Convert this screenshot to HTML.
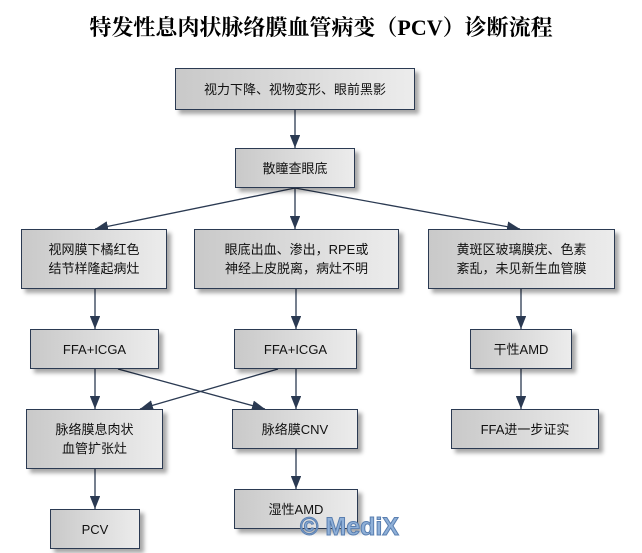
<!DOCTYPE html>
<html><head><meta charset="utf-8"><style>
body{margin:0;width:642px;height:553px;background:#fff;position:relative;overflow:hidden;font-family:"Liberation Sans","Noto Sans CJK SC",sans-serif;}
.t{position:absolute;left:0;width:642px;top:11px;text-align:center;font-size:22px;font-weight:bold;color:#000;font-family:"Liberation Serif","Noto Serif CJK SC",serif;}
.b{position:absolute;box-sizing:border-box;border:1px solid #2b3a52;background:linear-gradient(to right,#c9c9c9,#ececec);box-shadow:4px 4px 4px rgba(0,0,0,0.35);display:flex;align-items:center;justify-content:center;text-align:center;font-size:13px;line-height:19px;color:#111;}
svg{position:absolute;left:0;top:0;}
.wm{position:absolute;left:300px;top:513px;font-size:25px;font-weight:bold;color:#8fb0d8;-webkit-text-stroke:1px #5a7fb0;font-family:"Liberation Sans",sans-serif;}
</style></head><body>
<div class="t">特发性息肉状脉络膜血管病变（PCV）诊断流程</div>
<svg width="642" height="553"><defs>
<marker id="m" viewBox="0 0 10 8" refX="10" refY="4" markerWidth="10" markerHeight="8" orient="auto"><path d="M0,0 L10,4 L0,8z" fill="#2b3a52"/></marker></defs>
<g stroke="#2b3a52" stroke-width="1.3" fill="none" marker-end="url(#m)">
<line x1="295" y1="110" x2="295" y2="148"/>
<line x1="295" y1="188" x2="95" y2="229"/>
<line x1="295" y1="188" x2="295" y2="229"/>
<line x1="295" y1="188" x2="520" y2="229"/>
<line x1="95" y1="289" x2="95" y2="329"/>
<line x1="296" y1="289" x2="296" y2="329"/>
<line x1="521" y1="289" x2="521" y2="329"/>
<line x1="95" y1="369" x2="95" y2="409"/>
<line x1="296" y1="369" x2="296" y2="409"/>
<line x1="521" y1="369" x2="521" y2="409"/>
<line x1="118" y1="369" x2="265" y2="409"/>
<line x1="278" y1="369" x2="140" y2="409"/>
<line x1="296" y1="449" x2="296" y2="489"/>
<line x1="95" y1="469" x2="95" y2="509"/>
</g></svg>
<div class="b" style="left:175px;top:68px;width:240px;height:42px">视力下降、视物变形、眼前黑影</div>
<div class="b" style="left:235px;top:148px;width:120px;height:40px">散瞳查眼底</div>
<div class="b" style="left:21px;top:229px;width:146px;height:60px">视网膜下橘红色<br>结节样隆起病灶</div>
<div class="b" style="left:194px;top:229px;width:205px;height:60px">眼底出血、渗出，RPE或<br>神经上皮脱离，病灶不明</div>
<div class="b" style="left:428px;top:229px;width:187px;height:60px">黄斑区玻璃膜疣、色素<br>紊乱，未见新生血管膜</div>
<div class="b" style="left:30px;top:329px;width:129px;height:40px">FFA+ICGA</div>
<div class="b" style="left:234px;top:329px;width:123px;height:40px">FFA+ICGA</div>
<div class="b" style="left:470px;top:329px;width:102px;height:40px">干性AMD</div>
<div class="b" style="left:26px;top:409px;width:137px;height:60px">脉络膜息肉状<br>血管扩张灶</div>
<div class="b" style="left:232px;top:409px;width:126px;height:40px">脉络膜CNV</div>
<div class="b" style="left:451px;top:409px;width:148px;height:40px">FFA进一步证实</div>
<div class="b" style="left:234px;top:489px;width:124px;height:40px">湿性AMD</div>
<div class="b" style="left:50px;top:509px;width:90px;height:40px">PCV</div>
<div class="wm">© MediX</div>
</body></html>
